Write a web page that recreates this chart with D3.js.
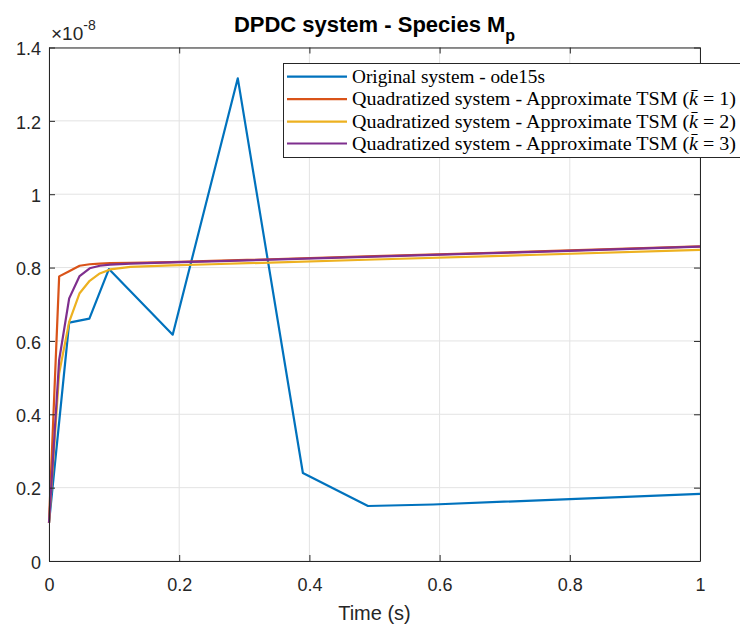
<!DOCTYPE html>
<html>
<head>
<meta charset="utf-8">
<script src="https://cdn.jsdelivr.net/npm/d3@7"></script>
<style>
  body { margin: 0; background: #fff; }
  svg { display: block; }
</style>
</head>
<body>
<div class="container"></div>
<script>
// values (y in units of 1e-8)
var tOde = [0, 0.031, 0.062, 0.092, 0.19, 0.29, 0.39, 0.49, 0.59, 1.0];
var yOde = [0.104, 0.650, 0.661, 0.796, 0.617, 1.316, 0.240, 0.150, 0.154, 0.183];

var tTsm = [0, 0.0156, 0.031, 0.047, 0.0625, 0.078, 0.094, 0.125, 0.1875, 0.25, 0.5, 0.75, 1.0];
var yK1 = [0.104, 0.776, 0.790, 0.805, 0.809, 0.811, 0.812, 0.813, 0.815, 0.818, 0.831, 0.844, 0.858];
var yK2 = [0.104, 0.512, 0.652, 0.730, 0.764, 0.784, 0.795, 0.802, 0.806, 0.809, 0.822, 0.835, 0.848];
var yK3 = [0.104, 0.548, 0.716, 0.777, 0.798, 0.805, 0.808, 0.811, 0.814, 0.817, 0.830, 0.843, 0.857];

var xTicks = [0, 0.2, 0.4, 0.6, 0.8, 1];
var yTicks = [0, 0.2, 0.4, 0.6, 0.8, 1, 1.2, 1.4];

var legendNames = ["Original system - ode15s",
                   "Quadratized system - Approximate TSM (",
                   "Quadratized system - Approximate TSM (",
                   "Quadratized system - Approximate TSM ("];
var legendK = [null, "1", "2", "3"];
var colors = ["#0072BD", "#D95319", "#EDB120", "#7E2F8E"];

var series = [
  { t: tOde, y: yOde },
  { t: tTsm, y: yK1 },
  { t: tTsm, y: yK2 },
  { t: tTsm, y: yK3 }
];

var W = 740, H = 628;
// plot box (don't call these top/left, window.top is taken)
var pL = 49, pR = 700, pT = 47.5, pB = 561;
var axisCol = "#262626";

var svg = d3.select("div.container").append("svg")
    .attr("width", W)
    .attr("height", H);

var x = d3.scaleLinear().domain([0, 1]).range([pL, pR]);
var y = d3.scaleLinear().domain([0, 1.4]).range([pB, pT]);

// grid
var grid = svg.append("g").attr("stroke", "#e3e3e3").attr("stroke-width", 1);
grid.selectAll(".gx").data(xTicks).enter().append("line")
    .attr("x1", d => x(d)).attr("x2", d => x(d))
    .attr("y1", pT).attr("y2", pB);
grid.selectAll(".gy").data(yTicks).enter().append("line")
    .attr("x1", pL).attr("x2", pR)
    .attr("y1", d => y(d)).attr("y2", d => y(d));

// data lines
var line = d3.line()
    .x(d => x(d[0]))
    .y(d => y(d[1]));

series.forEach(function(s, i) {
  var pts = s.t.map((t, j) => [t, s.y[j]]);
  svg.append("path")
      .datum(pts)
      .attr("d", line)
      .attr("fill", "none")
      .attr("stroke", colors[i])
      .attr("stroke-width", 2.2)
      .attr("stroke-linejoin", "round");
});

// axes, ticks inward on all four sides like matlab box on
var axB = svg.append("g").attr("transform", "translate(0," + pB + ")")
    .call(d3.axisBottom(x).tickValues(xTicks).tickSizeInner(-6).tickSizeOuter(0).tickPadding(17)
      .tickFormat(d3.format("")));
var axT = svg.append("g").attr("transform", "translate(0," + pT + ")")
    .call(d3.axisTop(x).tickValues(xTicks).tickSizeInner(-6).tickSizeOuter(0).tickFormat(""));
var axL = svg.append("g").attr("transform", "translate(" + pL + ",0)")
    .call(d3.axisLeft(y).tickValues(yTicks).tickSizeInner(-6).tickSizeOuter(0).tickPadding(8)
      .tickFormat(d3.format("")));
var axR = svg.append("g").attr("transform", "translate(" + pR + ",0)")
    .call(d3.axisRight(y).tickValues(yTicks).tickSizeInner(-6).tickSizeOuter(0).tickFormat(""));

[axB, axT, axL, axR].forEach(function(a) {
  a.select(".domain").attr("stroke", axisCol).attr("stroke-width", 1);
  a.selectAll(".tick line").attr("stroke", axisCol);
  a.selectAll(".tick text")
      .attr("fill", axisCol)
      .style("font-family", "'Liberation Sans', Arial, sans-serif")
      .style("font-size", "18px");
});
axL.selectAll(".tick text").attr("dy", "0.4em");

// exponent label
var expo = svg.append("text")
    .attr("x", 51).attr("y", 40)
    .attr("fill", axisCol)
    .style("font-family", "'Liberation Sans', Arial, sans-serif")
    .style("font-size", "19px");
expo.append("tspan").text("\u00d710");
expo.append("tspan").attr("dy", -10).style("font-size", "14px").text("-8");

// title
var title = svg.append("text")
    .attr("x", (pL + pR) / 2).attr("y", 32)
    .attr("text-anchor", "middle")
    .attr("fill", "#000")
    .style("font-family", "'Liberation Sans', Arial, sans-serif")
    .style("font-size", "22px")
    .style("font-weight", "bold");
title.append("tspan").text("DPDC system - Species M");
title.append("tspan").attr("dy", 9).style("font-size", "16px").text("p");

// x label
svg.append("text")
    .attr("x", (pL + pR) / 2).attr("y", 620)
    .attr("text-anchor", "middle")
    .attr("fill", axisCol)
    .style("font-family", "'Liberation Sans', Arial, sans-serif")
    .style("font-size", "20px")
    .text("Time (s)");

// legend
var lg = svg.append("g");
lg.append("rect")
    .attr("x", 283.5).attr("y", 63.5)
    .attr("width", 462).attr("height", 94)
    .attr("fill", "#fff")
    .attr("stroke", axisCol)
    .attr("stroke-width", 1);

var rowY = [76.7, 99.2, 121.6, 143.5];
legendNames.forEach(function(name, i) {
  lg.append("line")
      .attr("x1", 287).attr("x2", 347)
      .attr("y1", rowY[i]).attr("y2", rowY[i])
      .attr("stroke", colors[i])
      .attr("stroke-width", 2.2);
  var txt = lg.append("text")
      .attr("x", 352).attr("y", rowY[i] + 6)
      .attr("fill", "#000")
      .style("font-family", "'Liberation Serif', 'DejaVu Serif', serif")
      .style("font-size", "18px");
  txt.append("tspan").text(name);
  if (legendK[i] != null) {
    txt.append("tspan").style("font-style", "italic").text("k\u0304");
    txt.append("tspan").text(" = " + legendK[i] + ")");
  }
  txt.attr("textLength", i === 0 ? 193 : 384).attr("lengthAdjust", "spacingAndGlyphs");
});
</script>
</body>
</html>
